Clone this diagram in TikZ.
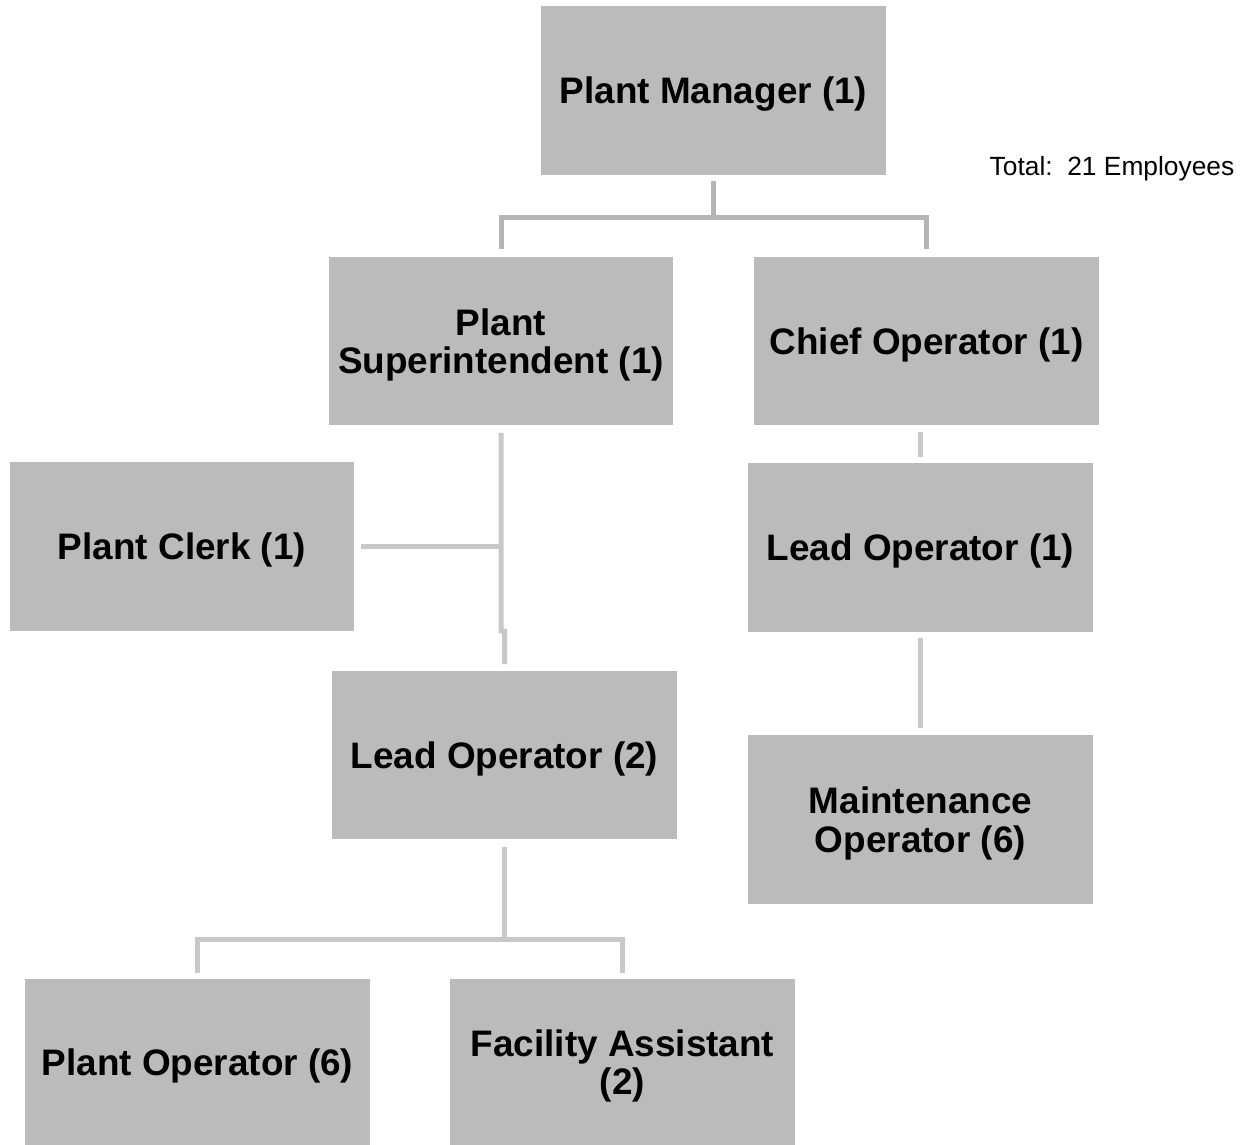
\documentclass[tikz,border=0pt]{standalone}
\usepackage{fontspec}
\setmainfont{Liberation Sans}
\usetikzlibrary{calc}
\definecolor{boxgray}{HTML}{BBBBBB}
\definecolor{linetop}{HTML}{B5B5B5}
\definecolor{linegray}{HTML}{C8C8C8}
\begin{document}
\begin{tikzpicture}[x=0.02cm,y=-0.02cm,
  orgbox/.style={fill=boxgray, minimum width=6.9cm, minimum height=3.38cm,
    inner sep=0pt, text depth=0pt, align=center,
    font=\bfseries\fontsize{21}{21.8}\selectfont},
  lowbox/.style={orgbox, minimum height=3.32cm},
  toplink/.style={draw=linetop, line width=0.1cm},
  link/.style={draw=linegray, line width=0.1cm}]
\useasboundingbox (0,0) rectangle (1247,1145);

% boxes
\node[orgbox] (pm)    at (713.5,90.5)  {Plant Manager (1)};
\node[orgbox] (sup)   at (501,341)     {Plant\\Superintendent (1)};
\node[orgbox] (chief) at (926.5,341)   {Chief Operator (1)};
\node[orgbox] (clerk) at (182,546.5)   {Plant Clerk (1)};
\node[orgbox] (lead1) at (920.5,547.5) {Lead Operator (1)};
\node[orgbox] (lead2) at (504.5,755)   {Lead Operator (2)};
\node[orgbox] (maint) at (920.5,819.5) {Maintenance\\Operator (6)};
\node[lowbox] (pop)   at (197.5,1062)  {Plant Operator (6)};
\node[lowbox] (fac)   at (622.5,1062)  {Facility Assistant\\(2)};

\node[font=\fontsize{15}{18}\selectfont] (total) at (1112,169) {Total:\ \ 21 Employees};

% top level
\draw[toplink] ($(pm.south)+(0,6)$) -- ++(0,36) coordinate (tj);
\draw[toplink] ($(sup.north)+(0,-7)$) |- (tj) -| ($(chief.north)+(0,-7)$);

% superintendent branch
\draw[link] ($(sup.south)+(0,7)$) -- ($(sup.south)+(0,205)$)
  -- ($(lead2.north)+(0,-39)$) -- ($(lead2.north)+(0,-6)$);
\draw[link] ($(clerk.east)+(6,0)$) -- (sup.south |- clerk.east);

% chief operator branch
\draw[link] ($(lead1.north)+(0,-31)$) -- ($(lead1.north)+(0,-6)$);
\draw[link] ($(lead1.south)+(0,6)$) -- ($(maint.north)+(0,-7)$);

% lead operator branch
\draw[link] ($(lead2.south)+(0,7)$) -- ++(0,93) coordinate (bj);
\draw[link] ($(pop.north)+(0,-6)$) |- (bj) -| ($(fac.north)+(0,-6)$);
\end{tikzpicture}
\end{document}
